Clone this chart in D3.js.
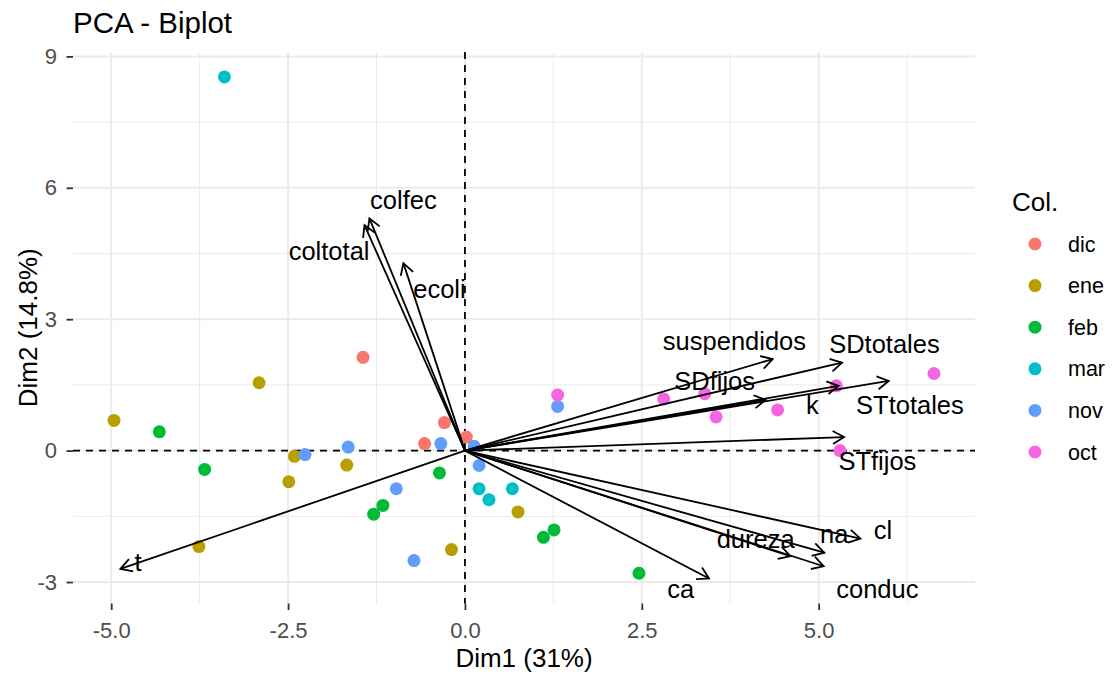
<!DOCTYPE html>
<html>
<head>
<meta charset="utf-8">
<script src="https://cdn.jsdelivr.net/npm/d3@7"></script>
<style>
  body { margin: 0; background: #fff; }
  svg { display: block; font-family: "Liberation Sans", Arial, Helvetica, sans-serif; }
</style>
</head>
<body>
<svg id="chart" width="1114" height="678"></svg>
<script>
// ---- groups (legend) ----
const groups = ["dic", "ene", "feb", "mar", "nov", "oct"];
const groupColors = ["#F8766D", "#B79F00", "#00BA38", "#00BFC4", "#619CFF", "#F564E3"];

// ---- individuals: group and coordinates on Dim1 / Dim2 ----
const indGroup = [
  "dic", "dic", "dic", "dic",
  "ene", "ene", "ene", "ene", "ene", "ene", "ene", "ene",
  "feb", "feb", "feb", "feb", "feb", "feb", "feb", "feb",
  "mar", "mar", "mar", "mar",
  "nov", "nov", "nov", "nov", "nov", "nov", "nov", "nov",
  "oct", "oct", "oct", "oct", "oct", "oct", "oct", "oct"
];
const indDim1 = [
  -1.44, -0.29, -0.57, 0.02,
  -4.96, -2.91, -2.41, -2.49, -1.67, -3.76, -0.19, 0.75,
  -4.32, -3.68, -0.36, -1.16, -1.29, 1.11, 1.26, 2.46,
  -3.40, 0.20, 0.34, 0.67,
  -2.26, -1.65, -0.34, 0.13, 0.20, -0.97, -0.72, 1.31,
  1.31, 2.81, 3.39, 3.55, 4.42, 5.25, 6.63, 5.30
];
const indDim2 = [
  2.13, 0.64, 0.16, 0.31,
  0.69, 1.55, -0.13, -0.71, -0.33, -2.19, -2.26, -1.40,
  0.43, -0.43, -0.51, -1.25, -1.45, -1.98, -1.81, -2.80,
  8.53, -0.87, -1.12, -0.87,
  -0.09, 0.08, 0.16, 0.10, -0.34, -0.87, -2.51, 1.01,
  1.27, 1.18, 1.30, 0.77, 0.93, 1.48, 1.76, 0.00
];

// ---- variables: arrow tips and label anchors on Dim1 / Dim2 ----
const varNames = ["colfec", "coltotal", "ecoli", "suspendidos", "SDtotales", "SDfijos", "k",
  "STtotales", "STfijos", "cl", "na", "dureza", "conduc", "ca", "t"];
const varDim1 = [-1.35, -1.42, -0.87, 4.35, 5.33, 4.25, 5.28, 5.99, 5.36, 5.59, 5.08, 4.60, 5.07, 3.45, -4.87];
const varDim2 = [5.30, 5.15, 4.28, 2.09, 2.01, 1.16, 1.48, 1.59, 0.31, -2.01, -2.33, -2.41, -2.64, -2.92, -2.70];
const labelDim1 = [-0.87, -1.92, -0.36, 3.81, 5.93, 3.53, 4.91, 6.29, 5.83, 5.91, 5.22, 4.11, 5.83, 3.05, -4.62];
const labelDim2 = [5.71, 4.56, 3.68, 2.49, 2.43, 1.58, 1.05, 1.05, -0.23, -1.81, -1.91, -2.01, -3.15, -3.15, -2.54];

// ---- axes ----
const xTicks = [-5, -2.5, 0, 2.5, 5];
const xTickLabels = ["-5.0", "-2.5", "0.0", "2.5", "5.0"];
const xMinor = [-3.75, -1.25, 1.25, 3.75, 6.25];
const yTicks = [-3, 0, 3, 6, 9];
const yTickLabels = ["-3", "0", "3", "6", "9"];
const yMinor = [-1.5, 1.5, 4.5, 7.5];
const xDomain = [-5.54, 7.21];
const yDomain = [-3.49, 9.10];

const titleText = "PCA - Biplot";
const xTitle = "Dim1 (31%)";
const yTitle = "Dim2 (14.8%)";
const legendTitle = "Col.";

// ---- layout ----
const panel = { left: 73, right: 975, top: 52, bottom: 603.5 };
const svg = d3.select("#chart");

const x = d3.scaleLinear().domain(xDomain).range([panel.left, panel.right]);
const y = d3.scaleLinear().domain(yDomain).range([panel.bottom, panel.top]);
const color = d3.scaleOrdinal().domain(groups).range(groupColors);

// grid
const grid = svg.append("g");
grid.selectAll("line.xminor").data(xMinor).join("line")
  .attr("x1", d => x(d)).attr("x2", d => x(d))
  .attr("y1", panel.top).attr("y2", panel.bottom)
  .attr("stroke", "#EBEBEB").attr("stroke-width", 1);
grid.selectAll("line.yminor").data(yMinor).join("line")
  .attr("y1", d => y(d)).attr("y2", d => y(d))
  .attr("x1", panel.left).attr("x2", panel.right)
  .attr("stroke", "#EBEBEB").attr("stroke-width", 1);
grid.selectAll("line.xmajor").data(xTicks).join("line")
  .attr("x1", d => x(d)).attr("x2", d => x(d))
  .attr("y1", panel.top).attr("y2", panel.bottom)
  .attr("stroke", "#EBEBEB").attr("stroke-width", 2);
grid.selectAll("line.ymajor").data(yTicks).join("line")
  .attr("y1", d => y(d)).attr("y2", d => y(d))
  .attr("x1", panel.left).attr("x2", panel.right)
  .attr("stroke", "#EBEBEB").attr("stroke-width", 2);

// axes with d3 axis generators
const xAxis = d3.axisBottom(x).tickValues(xTicks)
  .tickFormat((d, i) => xTickLabels[i]).tickSize(6.5).tickPadding(12);
const yAxis = d3.axisLeft(y).tickValues(yTicks)
  .tickFormat((d, i) => yTickLabels[i]).tickSize(6.5).tickPadding(9.5);

const gx = svg.append("g").attr("transform", `translate(0,${panel.bottom})`).call(xAxis);
const gy = svg.append("g").attr("transform", `translate(${panel.left},0)`).call(yAxis);
[gx, gy].forEach(g => {
  g.select(".domain").remove();
  g.selectAll(".tick line").attr("stroke", "#333333").attr("stroke-width", 1.8);
  g.selectAll(".tick text").attr("fill", "#4D4D4D")
    .style("font-size", "22px").style("font-family", "'Liberation Sans', Arial, sans-serif");
});

// reference lines through the origin
const ref = svg.append("g");
ref.append("line")
  .attr("x1", panel.left).attr("x2", panel.right).attr("y1", y(0)).attr("y2", y(0))
  .attr("stroke", "#000").attr("stroke-width", 1.8).attr("stroke-dasharray", "7,6");
ref.append("line")
  .attr("y1", panel.top).attr("y2", panel.bottom).attr("x1", x(0)).attr("x2", x(0))
  .attr("stroke", "#000").attr("stroke-width", 1.8).attr("stroke-dasharray", "7,6");

// individuals
const inds = indDim1.map((d, i) => ({ d1: d, d2: indDim2[i], g: indGroup[i] }));
svg.append("g").selectAll("circle").data(inds).join("circle")
  .attr("cx", d => x(d.d1)).attr("cy", d => y(d.d2)).attr("r", 6.5)
  .attr("fill", d => color(d.g));

// variable arrows
const vars = varNames.map((n, i) => ({
  name: n, d1: varDim1[i], d2: varDim2[i], l1: labelDim1[i], l2: labelDim2[i]
}));
const arrows = svg.append("g").attr("fill", "none").attr("stroke", "#000")
  .attr("stroke-width", 1.8).attr("stroke-linecap", "butt").attr("stroke-linejoin", "miter");
const headLen = 13, headAng = Math.PI / 6;
vars.forEach(v => {
  const x0 = x(0), y0 = y(0), x1 = x(v.d1), y1 = y(v.d2);
  arrows.append("line").attr("x1", x0).attr("y1", y0).attr("x2", x1).attr("y2", y1);
  const a = Math.atan2(y1 - y0, x1 - x0);
  const p = d3.path();
  p.moveTo(x1 - headLen * Math.cos(a - headAng), y1 - headLen * Math.sin(a - headAng));
  p.lineTo(x1, y1);
  p.lineTo(x1 - headLen * Math.cos(a + headAng), y1 - headLen * Math.sin(a + headAng));
  arrows.append("path").attr("d", p.toString());
});

// variable labels
svg.append("g").selectAll("text").data(vars).join("text")
  .attr("x", d => x(d.l1)).attr("y", d => y(d.l2)).attr("dy", "0.35em")
  .attr("text-anchor", "middle").attr("fill", "#000")
  .style("font-size", "25.5px")
  .text(d => d.name);

// titles
svg.append("text").attr("x", 73).attr("y", 33)
  .style("font-size", "29.5px").attr("fill", "#000").text(titleText);
svg.append("text").attr("x", (panel.left + panel.right) / 2).attr("y", 667)
  .attr("text-anchor", "middle").style("font-size", "26px").attr("fill", "#000").text(xTitle);
svg.append("text")
  .attr("transform", `translate(37,${(panel.top + panel.bottom) / 2}) rotate(-90)`)
  .attr("text-anchor", "middle").style("font-size", "26px").attr("fill", "#000").text(yTitle);

// legend
const legend = svg.append("g");
legend.append("text").attr("x", 1012).attr("y", 211)
  .style("font-size", "26px").attr("fill", "#000").text(legendTitle);
const legendY = d3.scalePoint().domain(groups).range([244, 452]);
const items = legend.selectAll("g.item").data(groups).join("g")
  .attr("transform", d => `translate(0,${legendY(d)})`);
items.append("circle").attr("cx", 1035).attr("cy", 0).attr("r", 6.5).attr("fill", d => color(d));
items.append("text").attr("x", 1068).attr("dy", "0.35em")
  .style("font-size", "21.5px").attr("fill", "#000").text(d => d);
</script>
</body>
</html>
